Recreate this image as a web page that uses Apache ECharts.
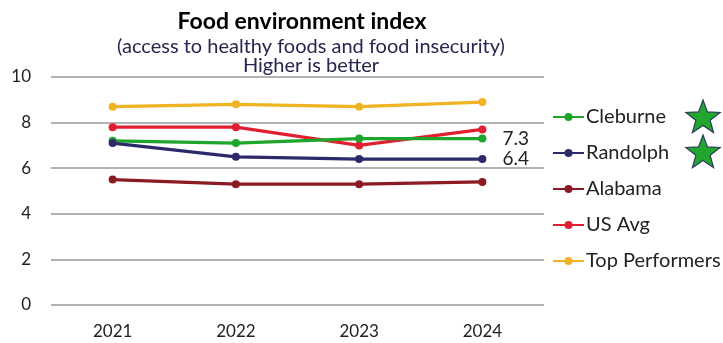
<!DOCTYPE html>
<html><head><meta charset="utf-8">
<script src="https://cdn.jsdelivr.net/npm/echarts@6/dist/echarts.min.js"></script>
<style>html,body{margin:0;padding:0;background:#fff}#c{width:723px;height:343px}</style>
</head><body><div id="c"></div>
<script>
var years = ['2021','2022','2023','2024'];
var cleburne = [7.2, 7.1, 7.3, 7.3];
var randolph = [7.1, 6.5, 6.4, 6.4];
var alabama = [5.5, 5.3, 5.3, 5.4];
var usAvg = [7.8, 7.8, 7.0, 7.7];
var topPerformers = [8.7, 8.8, 8.7, 8.9];
var yTicks = [0, 2, 4, 6, 8, 10];

var FONT = 'Lato';
var chart = echarts.init(document.getElementById('c'));
function starPts(cx, cy, R, r) {
  var p = [];
  for (var i = 0; i < 10; i++) {
    var a = -Math.PI / 2 + i * Math.PI / 5;
    var rr = i % 2 === 0 ? R : r;
    p.push([cx + rr * Math.cos(a), cy + rr * Math.sin(a)]);
  }
  return p;
}
function mk(name, data, color, showEnd) {
  return {
    name: name, type: 'line', data: data,
    symbol: 'circle', symbolSize: 8,
    lineStyle: { width: 3.2, color: color },
    itemStyle: { color: color },
    z: name === 'Randolph' || name === 'Cleburne' ? 3 : 2,
    label: {
      show: showEnd, position: 'right', distance: 16,
      fontFamily: FONT, fontSize: 19, color: '#222',
      formatter: function (p) { return p.dataIndex === data.length - 1 ? p.value.toFixed(1) : ''; }
    },
    emphasis: { disabled: true }
  };
}
chart.setOption({
  animation: false,
  textStyle: { fontFamily: FONT },
  title: [
    { text: 'Food environment index', left: 297, textAlign: 'center', top: 5,
      textStyle: { fontFamily: FONT, fontSize: 23, fontWeight: 'bold', color: '#000' } },
    { text: '(access to healthy foods and food insecurity)\nHigher is better', left: 306, textAlign: 'center', top: 32,
      textStyle: { fontFamily: FONT, fontSize: 20, fontWeight: 'normal', color: '#262650', lineHeight: 19 } }
  ],
  grid: { left: 51, right: 179, top: 77, bottom: 38, containLabel: false },
  xAxis: {
    type: 'category', data: years, boundaryGap: true,
    axisLine: { show: false }, axisTick: { show: false },
    axisLabel: { fontFamily: FONT, fontSize: 17, color: '#222', margin: 18 }
  },
  yAxis: {
    type: 'value', min: 0, max: 10, interval: 2,
    axisLine: { show: false }, axisTick: { show: false },
    axisLabel: { fontFamily: FONT, fontSize: 17, color: '#222', margin: 20,
      formatter: function (v) { return yTicks.indexOf(v) >= 0 ? String(v) : ''; } },
    splitLine: { lineStyle: { color: '#999', width: 1.5 } }
  },
  legend: {
    orient: 'vertical', left: 547, top: 102, itemGap: 16,
    itemWidth: 31, itemHeight: 10,
    data: ['Cleburne', 'Randolph', 'Alabama', 'US Avg', 'Top Performers'],
    textStyle: { fontFamily: FONT, fontSize: 20, color: '#222', padding: [0, 0, 0, -3] }
  },
  graphic: [
    { type: 'polygon', shape: { points: starPts(703, 118, 18, 7.5) },
      style: { fill: '#22a72e', stroke: '#2a3a5a', lineWidth: 1.2 } },
    { type: 'polygon', shape: { points: starPts(703, 153, 18, 7.5) },
      style: { fill: '#22a72e', stroke: '#2a3a5a', lineWidth: 1.2 } }
  ],
  series: [
    mk('Top Performers', topPerformers, '#f0b323', false),
    mk('US Avg', usAvg, '#e21f31', false),
    mk('Alabama', alabama, '#8c1a22', false),
    mk('Cleburne', cleburne, '#1ea52b', true),
    mk('Randolph', randolph, '#2d2a6b', true)
  ]
});
</script></body></html>
